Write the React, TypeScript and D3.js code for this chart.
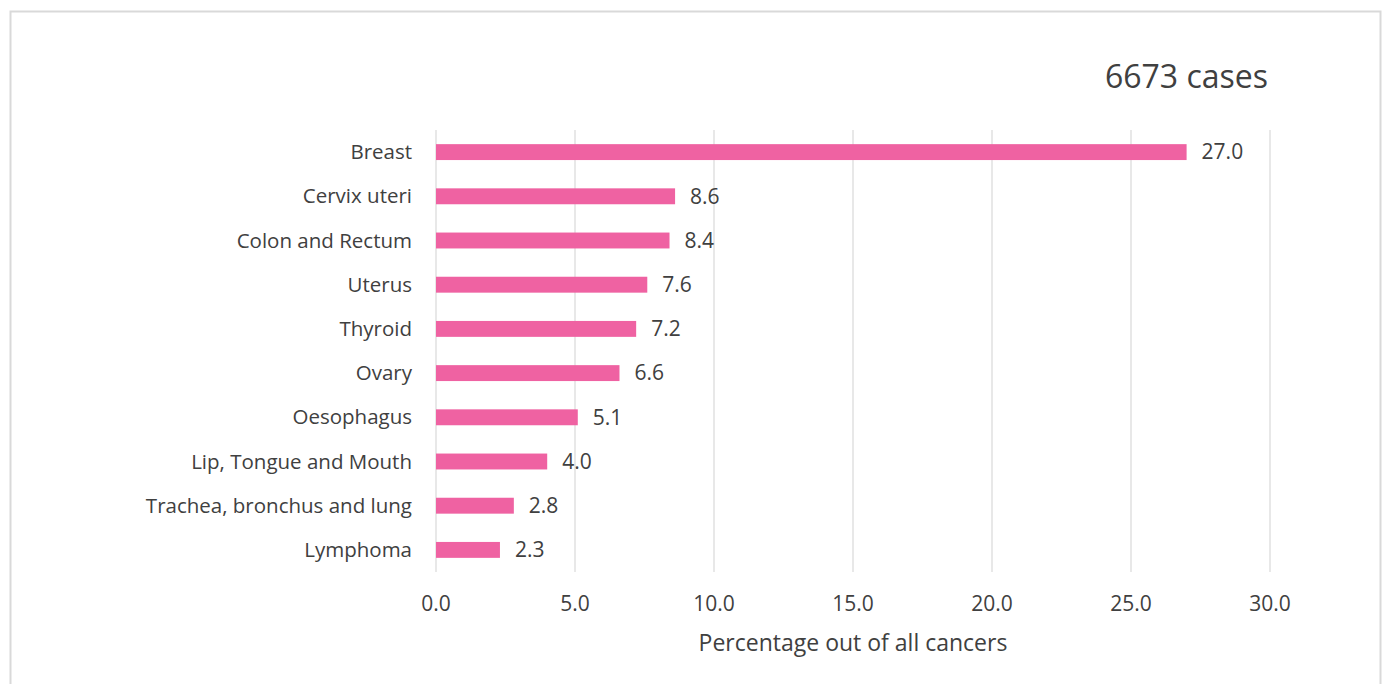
import React from "react";
import * as d3 from "d3";

const categories = [
  "Breast",
  "Cervix uteri",
  "Colon and Rectum",
  "Uterus",
  "Thyroid",
  "Ovary",
  "Oesophagus",
  "Lip, Tongue and Mouth",
  "Trachea, bronchus and lung",
  "Lymphoma",
];
const values = [27.0, 8.6, 8.4, 7.6, 7.2, 6.6, 5.1, 4.0, 2.8, 2.3];
const xTicks = [0, 5, 10, 15, 20, 25, 30];
const title = "6673 cases";
const xTitle = "Percentage out of all cancers";

export default function App() {
  const W = 1391;
  const H = 684;
  const x = d3.scaleLinear().domain([0, 30]).range([436, 1270]);
  const y = d3.scaleBand<string>().domain(categories).range([130, 572]).paddingInner(0.64).paddingOuter(0.32);
  const font = "'Open Sans', sans-serif";
  const textColor = "#404040";
  return (
    <svg width={W} height={H} style={{ position: "absolute", left: 0, top: 0 }}>
      <rect x={0} y={0} width={W} height={H} fill="#fff" />
      <rect x={10.5} y={11.5} width={1370} height={690} fill="#fff" stroke="#d9d9d9" strokeWidth={2} />
      {xTicks.map((t) => (
        <line key={t} x1={x(t)} x2={x(t)} y1={130} y2={572} stroke="#d9d9d9" strokeWidth={1.2} />
      ))}
      {categories.map((c, i) => (
        <g key={c}>
          <rect x={x(0)} y={y(c)!} width={x(values[i]) - x(0)} height={y.bandwidth()} fill="#ef62a2" />
          <text x={412} y={y(c)! + y.bandwidth() / 2} dy="0.35em" textAnchor="end" fontFamily={font} fontSize={20.5} fill={textColor}>
            {c}
          </text>
          <text x={x(values[i]) + 15} y={y(c)! + y.bandwidth() / 2} dy="0.35em" fontFamily={font} fontSize={21} fill={textColor}>
            {values[i].toFixed(1)}
          </text>
        </g>
      ))}
      {xTicks.map((t) => (
        <text key={"l" + t} x={x(t)} y={604} dy="0.35em" textAnchor="middle" fontFamily={font} fontSize={21} fill={textColor}>
          {t.toFixed(1)}
        </text>
      ))}
      <text x={853} y={643} dy="0.35em" textAnchor="middle" fontFamily={font} fontSize={23} fill={textColor}>
        {xTitle}
      </text>
      <text x={1268} y={77} dy="0.35em" textAnchor="end" fontFamily={font} fontSize={32} fill={textColor}>
        {title}
      </text>
    </svg>
  );
}
